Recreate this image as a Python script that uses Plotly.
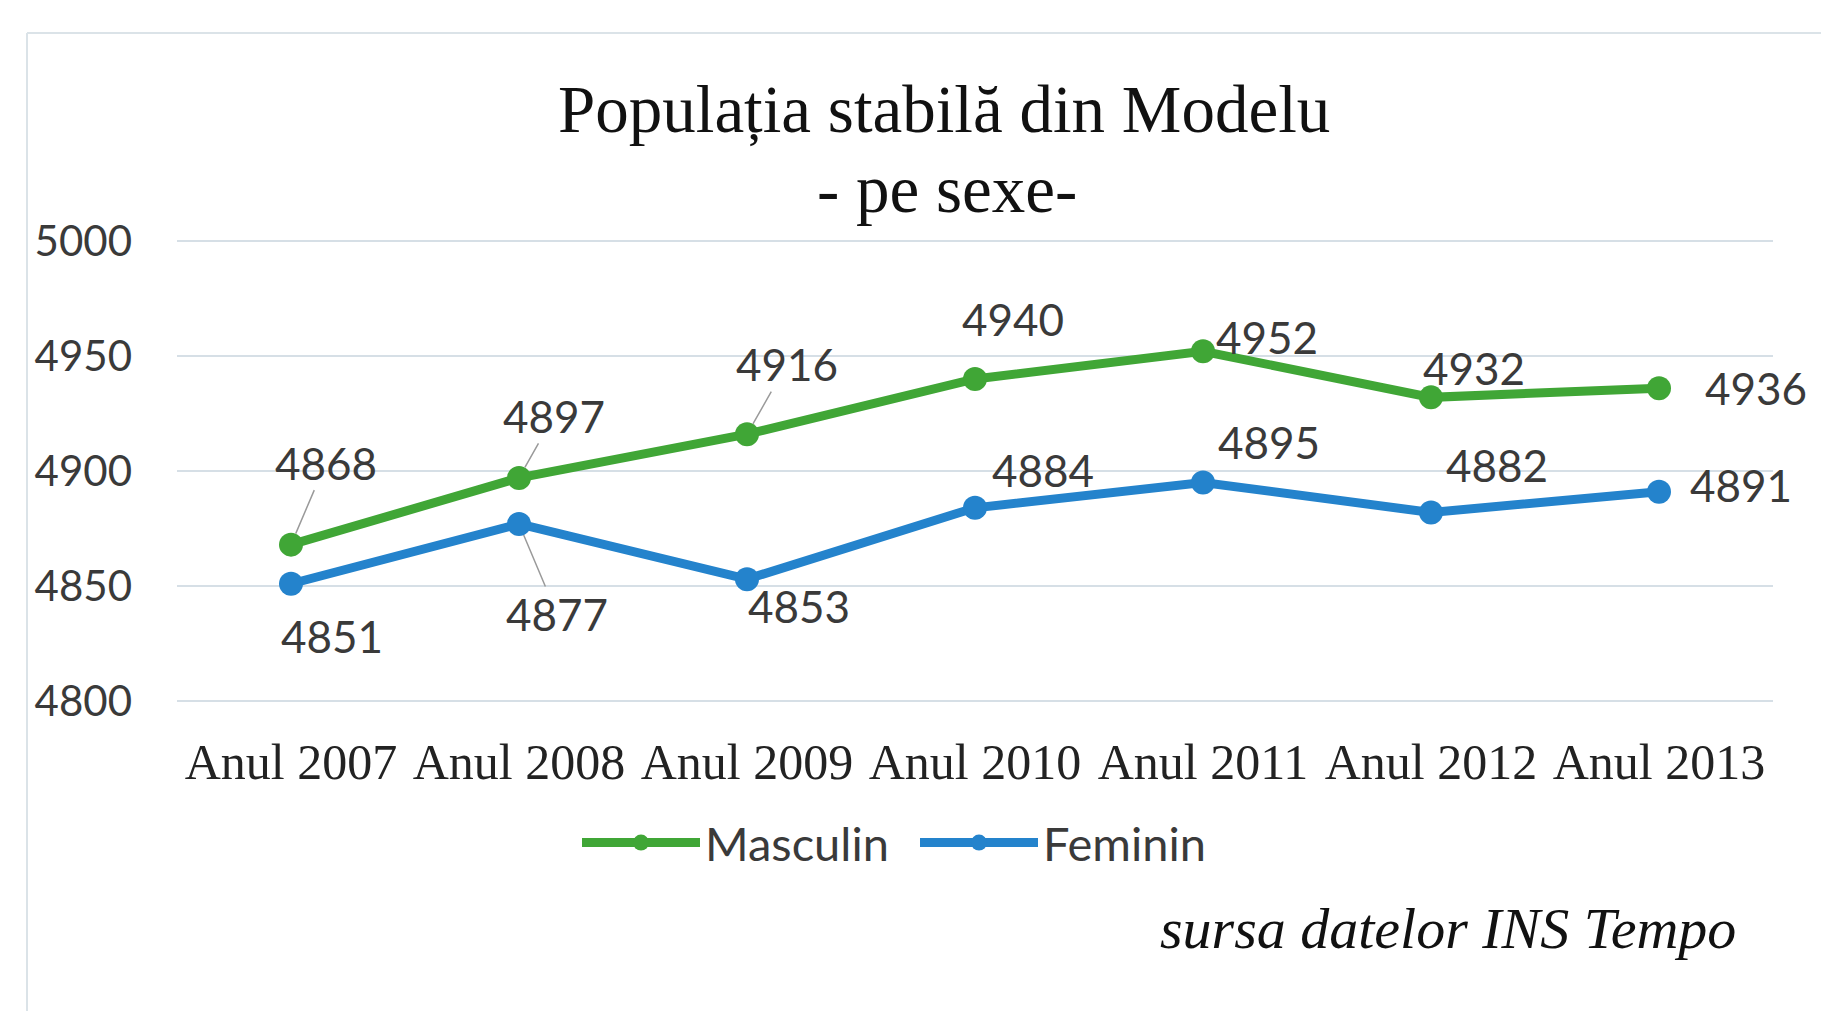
import plotly.graph_objects as go

categories = ["Anul 2007", "Anul 2008", "Anul 2009", "Anul 2010", "Anul 2011", "Anul 2012", "Anul 2013"]
masculin = [4868, 4897, 4916, 4940, 4952, 4932, 4936]
feminin = [4851, 4877, 4853, 4884, 4895, 4882, 4891]
y_ticks = [4800, 4850, 4900, 4950, 5000]

title_line1 = "Populația stabilă din Modelu"
title_line2 = "- pe sexe-"
source_text = "sursa datelor INS Tempo"

# styling: label offsets (px) and whether a leader line is drawn
m_offsets = [(35, -82), (35, -62), (40, -70), (38, -60), (64, -14), (43, -29), (97, 0)]
m_leader = [True, True, True, False, False, False, False]
f_offsets = [(41, 52), (38, 90), (52, 27), (68, -38), (66, -41), (66, -47), (82, -7)]
f_leader = [False, True, False, False, False, False, False]

GREEN = "#40a636"
BLUE = "#2483cc"
SANS = "Lato, 'Open Sans', sans-serif"
SERIF = "'Liberation Serif', 'Times New Roman', serif"
TXT = "#3a3a3a"

W, H = 1829, 1011
ml, mr, mt, mb = 169, 64, 226, 311
pw, ph = W - ml - mr, H - mt - mb


def px_to_paper(xp, yp):
    return (xp - ml) / pw, (H - mb - yp) / ph


fig = go.Figure()
fig.add_trace(go.Scatter(x=categories, y=masculin, name="Masculin", mode="lines+markers",
                         line=dict(color=GREEN, width=9), marker=dict(color=GREEN, size=24)))
fig.add_trace(go.Scatter(x=categories, y=feminin, name="Feminin", mode="lines+markers",
                         line=dict(color=BLUE, width=9), marker=dict(color=BLUE, size=24)))

annotations = []
for series, offs, leads in ((masculin, m_offsets, m_leader), (feminin, f_offsets, f_leader)):
    for cat, val, (dx, dy), lead in zip(categories, series, offs, leads):
        annotations.append(dict(
            x=cat, y=val, xref="x", yref="y", text=str(val),
            showarrow=True, ax=dx, ay=dy, axref="pixel", ayref="pixel",
            arrowhead=0, arrowwidth=1.5,
            arrowcolor="#9a9a9a" if lead else "rgba(0,0,0,0)",
            standoff=12, startstandoff=0,
            font=dict(family=SANS, size=44, color=TXT),
        ))

x1, y1 = px_to_paper(936, 101)
x2, y2 = px_to_paper(939, 181)
xs, ys = px_to_paper(1730, 920)
annotations.append(dict(x=x1, y=y1, xref="paper", yref="paper", text=title_line1, showarrow=False,
                        font=dict(family=SERIF, size=67, color="#111111"),
                        xanchor="center", yanchor="middle"))
annotations.append(dict(x=x2, y=y2, xref="paper", yref="paper", text=title_line2, showarrow=False,
                        font=dict(family=SERIF, size=67, color="#111111"),
                        xanchor="center", yanchor="middle"))
annotations.append(dict(x=xs, y=ys, xref="paper", yref="paper", text="<i>" + source_text + "</i>",
                        showarrow=False, font=dict(family=SERIF, size=58, color="#111111"),
                        xanchor="right", yanchor="middle"))

lx, ly = px_to_paper(569, 835)

bx0, by0 = px_to_paper(19, 1011)
bx1, by1 = px_to_paper(1829, 25)

fig.update_layout(
    width=W, height=H,
    margin=dict(l=ml, r=mr, t=mt, b=mb, autoexpand=False),
    paper_bgcolor="white", plot_bgcolor="white",
    annotations=annotations,
    showlegend=True,
    legend=dict(orientation="h", x=lx, y=ly, xanchor="left", yanchor="middle",
                font=dict(family=SANS, size=47, color=TXT), itemwidth=118,
                entrywidth=205, entrywidthmode="pixels",
                bgcolor="rgba(0,0,0,0)"),
    xaxis=dict(type="category", range=[-0.5, len(categories) - 0.5],
               showgrid=False, showline=False, zeroline=False,
               tickfont=dict(family=SERIF, size=50, color="#222222"), ticks="",
               ticklabelstandoff=20),
    yaxis=dict(range=[4797, 5003], tickvals=y_ticks, showgrid=True, gridcolor="#d6dfe6",
               gridwidth=2, zeroline=False, showline=False,
               tickfont=dict(family=SANS, size=42, color=TXT), ticklabelstandoff=44),
    shapes=[
        dict(type="line", xref="paper", yref="paper", x0=bx0, x1=bx0, y0=by0, y1=by1,
             line=dict(color="#dbe3e8", width=2), layer="below"),
        dict(type="line", xref="paper", yref="paper", x0=bx0, x1=bx1, y0=by1, y1=by1,
             line=dict(color="#dbe3e8", width=2), layer="below"),
    ],
)

fig.write_html("out.html")
